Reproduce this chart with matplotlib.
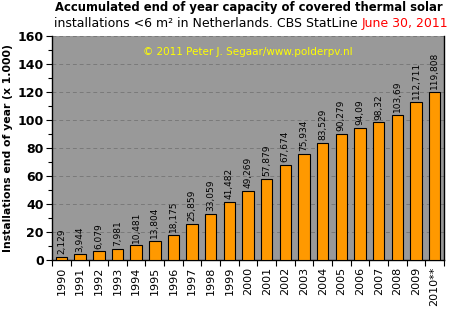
import numpy as np
import matplotlib
matplotlib.use('Agg')
import matplotlib.pyplot as plt
from matplotlib.ticker import MultipleLocator, FixedLocator

years = ['1990', '1991', '1992', '1993', '1994', '1995', '1996', '1997', '1998', '1999',
         '2000', '2001', '2002', '2003', '2004', '2005', '2006', '2007', '2008', '2009', '2010**']
capacity = [2.129, 3.944, 6.079, 7.981, 10.481, 13.804, 18.175, 25.859, 33.059, 41.482,
            49.269, 57.879, 67.674, 75.934, 83.529, 90.279, 94.09, 98.32, 103.69, 112.711, 119.808]
bar_labels = ['2,129', '3,944', '6,079', '7,981', '10,481', '13,804', '18,175', '25,859', '33,059', '41,482',
              '49,269', '57,879', '67,674', '75,934', '83,529', '90,279', '94,09', '98,32', '103,69', '112,711', '119,808']

fig = plt.figure(figsize=(4.61, 3.21), dpi=100)
ax = fig.add_axes([0.113, 0.19, 0.85, 0.698])
ax.set_facecolor('#999999')

x = np.arange(len(years))
ax.bar(x, capacity, width=0.62, color='#ff9900', edgecolor='black', linewidth=0.8, zorder=3)

for xi, v, lab in zip(x, capacity, bar_labels):
    ax.text(xi, v + 2, lab, rotation=90, ha='center', va='bottom', fontsize=6.5, zorder=4)

ax.set_xlim(-0.5, len(years) - 0.5)
ax.set_ylim(0, 160)
ax.yaxis.set_major_locator(MultipleLocator(20))
ax.yaxis.set_minor_locator(MultipleLocator(10))
ax.grid(axis='y', which='major', color='#7a7a7a', linestyle=(0, (4, 3)), linewidth=0.7, zorder=0)

ax.set_xticks(x)
ax.set_xticklabels(years, rotation=90, fontsize=8)
ax.xaxis.set_minor_locator(FixedLocator(np.arange(-0.5, len(years), 1)))
ax.tick_params(axis='x', which='major', length=0, pad=5)
ax.tick_params(axis='x', which='minor', length=4, width=0.8)
ax.tick_params(axis='y', which='major', length=4, width=0.8, labelsize=9, pad=2)
ax.tick_params(axis='y', which='minor', length=3, width=0.8)
for lab in ax.get_yticklabels():
    lab.set_fontweight('bold')

for side in ['left', 'bottom', 'right']:
    ax.spines[side].set_linewidth(1.0)
ax.spines['top'].set_visible(False)

ax.set_ylabel('Installations end of year (x 1.000)', fontsize=7.8, fontweight='bold', labelpad=3)

ax.text(0.5, 0.93, '\u00a9 2011 Peter J. Segaar/www.polderpv.nl', transform=ax.transAxes,
        ha='center', va='center', color='#ffff00', fontsize=7.5)

fig.text(0.54, 0.997, 'Accumulated end of year capacity of covered thermal solar',
         ha='center', va='top', fontsize=8.4, fontweight='bold')
t2 = fig.text(0.785, 0.948, 'installations <6 m\u00b2 in Netherlands. CBS StatLine ',
              ha='right', va='top', fontsize=9.0)
ax.annotate('June 30, 2011', xy=(1, 0), xycoords=t2, ha='left', va='bottom',
            fontsize=9.0, color='#ff0000')

fig.savefig('out.png', dpi=100)
